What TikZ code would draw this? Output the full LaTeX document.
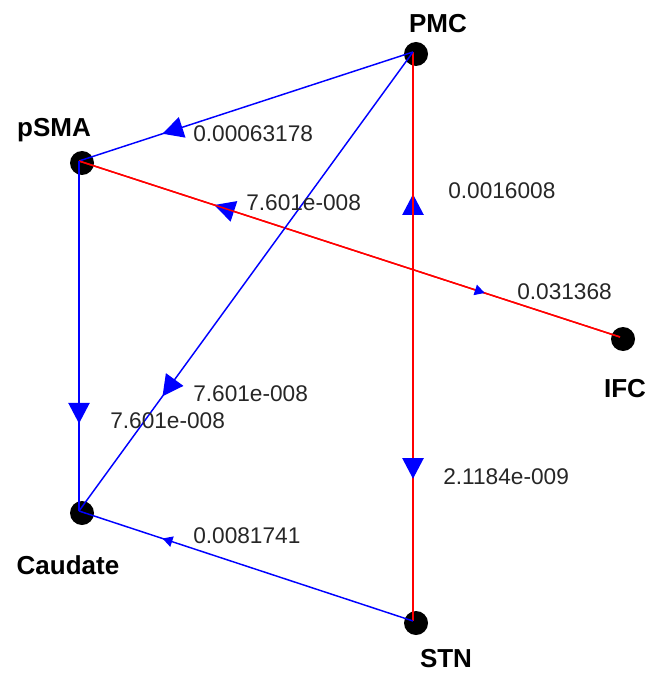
\documentclass[tikz,border=0pt]{standalone}
\usepackage{fontspec}
\setmainfont{Liberation Sans}
\usetikzlibrary{arrows.meta,decorations.markings}

\tikzset{
  vertex/.style={circle,fill=black,inner sep=0pt,minimum size=18pt},
  vname/.style={font=\fontsize{19.5}{22}\selectfont\bfseries,text=black,inner sep=0pt},
  wlabel/.style={font=\fontsize{17}{20}\selectfont,text=black!85,anchor=west,inner sep=0pt},
  edge/.style={line width=1.1pt},
  bigtip/.style={postaction={decorate},decoration={markings,
      mark=at position 0.75 with {\arrow[blue]{Triangle[width=16pt,length=15.5pt]}}}},
  smalltip/.style={postaction={decorate},decoration={markings,
      mark=at position 0.75 with {\arrow[blue]{Triangle[width=8pt,length=7.5pt]}}}},
}

\begin{document}
\begin{tikzpicture}[x=0.75pt,y=-0.75pt]
\useasboundingbox (0,0) rectangle (658,673);

% edge end points
\coordinate (PMC) at (413,52);
\coordinate (pSMA) at (79,161);
\coordinate (IFC) at (620,337);
\coordinate (Caudate) at (79,511);
\coordinate (STN) at (413,621);

% region dots
\node[vertex] (PMCdot) at (416,54) {};
\node[vertex] (pSMAdot) at (82,163) {};
\node[vertex] (IFCdot) at (623,339) {};
\node[vertex] (Caudatedot) at (82,513) {};
\node[vertex] (STNdot) at (416,623) {};

% region names
\node[vname] (PMClab) at (438,24) {PMC};
\node[vname] (pSMAlab) at (54,130) {pSMA};
\node[vname] (IFClab) at (625,389) {IFC};
\node[vname] (Caudatelab) at (68,565) {Caudate};
\node[vname] (STNlab) at (446,659) {STN};

% connections
\draw[edge,blue,bigtip] (PMC) -- (pSMA);
\draw[edge,red,bigtip] (IFC) -- (pSMA);
\draw[edge,red,smalltip] (pSMA) -- (IFC);
\draw[edge,red,bigtip] (STN) -- (PMC);
\draw[edge,red,bigtip] (PMC) -- (STN);
\draw[edge,blue,bigtip] (pSMA) -- (Caudate);
\draw[edge,blue,bigtip] (PMC) -- (Caudate);
\draw[edge,blue,smalltip] (STN) -- (Caudate);

% connection weights
\node[wlabel] (w1) at (193,134) {0.00063178};
\node[wlabel] (w2) at (246,203) {7.601e-008};
\node[wlabel] (w3) at (517,292) {0.031368};
\node[wlabel] (w4) at (448,191) {0.0016008};
\node[wlabel] (w5) at (443,477) {2.1184e-009};
\node[wlabel] (w6) at (193,394) {7.601e-008};
\node[wlabel] (w7) at (110,421) {7.601e-008};
\node[wlabel] (w8) at (193,536) {0.0081741};
\end{tikzpicture}
\end{document}
